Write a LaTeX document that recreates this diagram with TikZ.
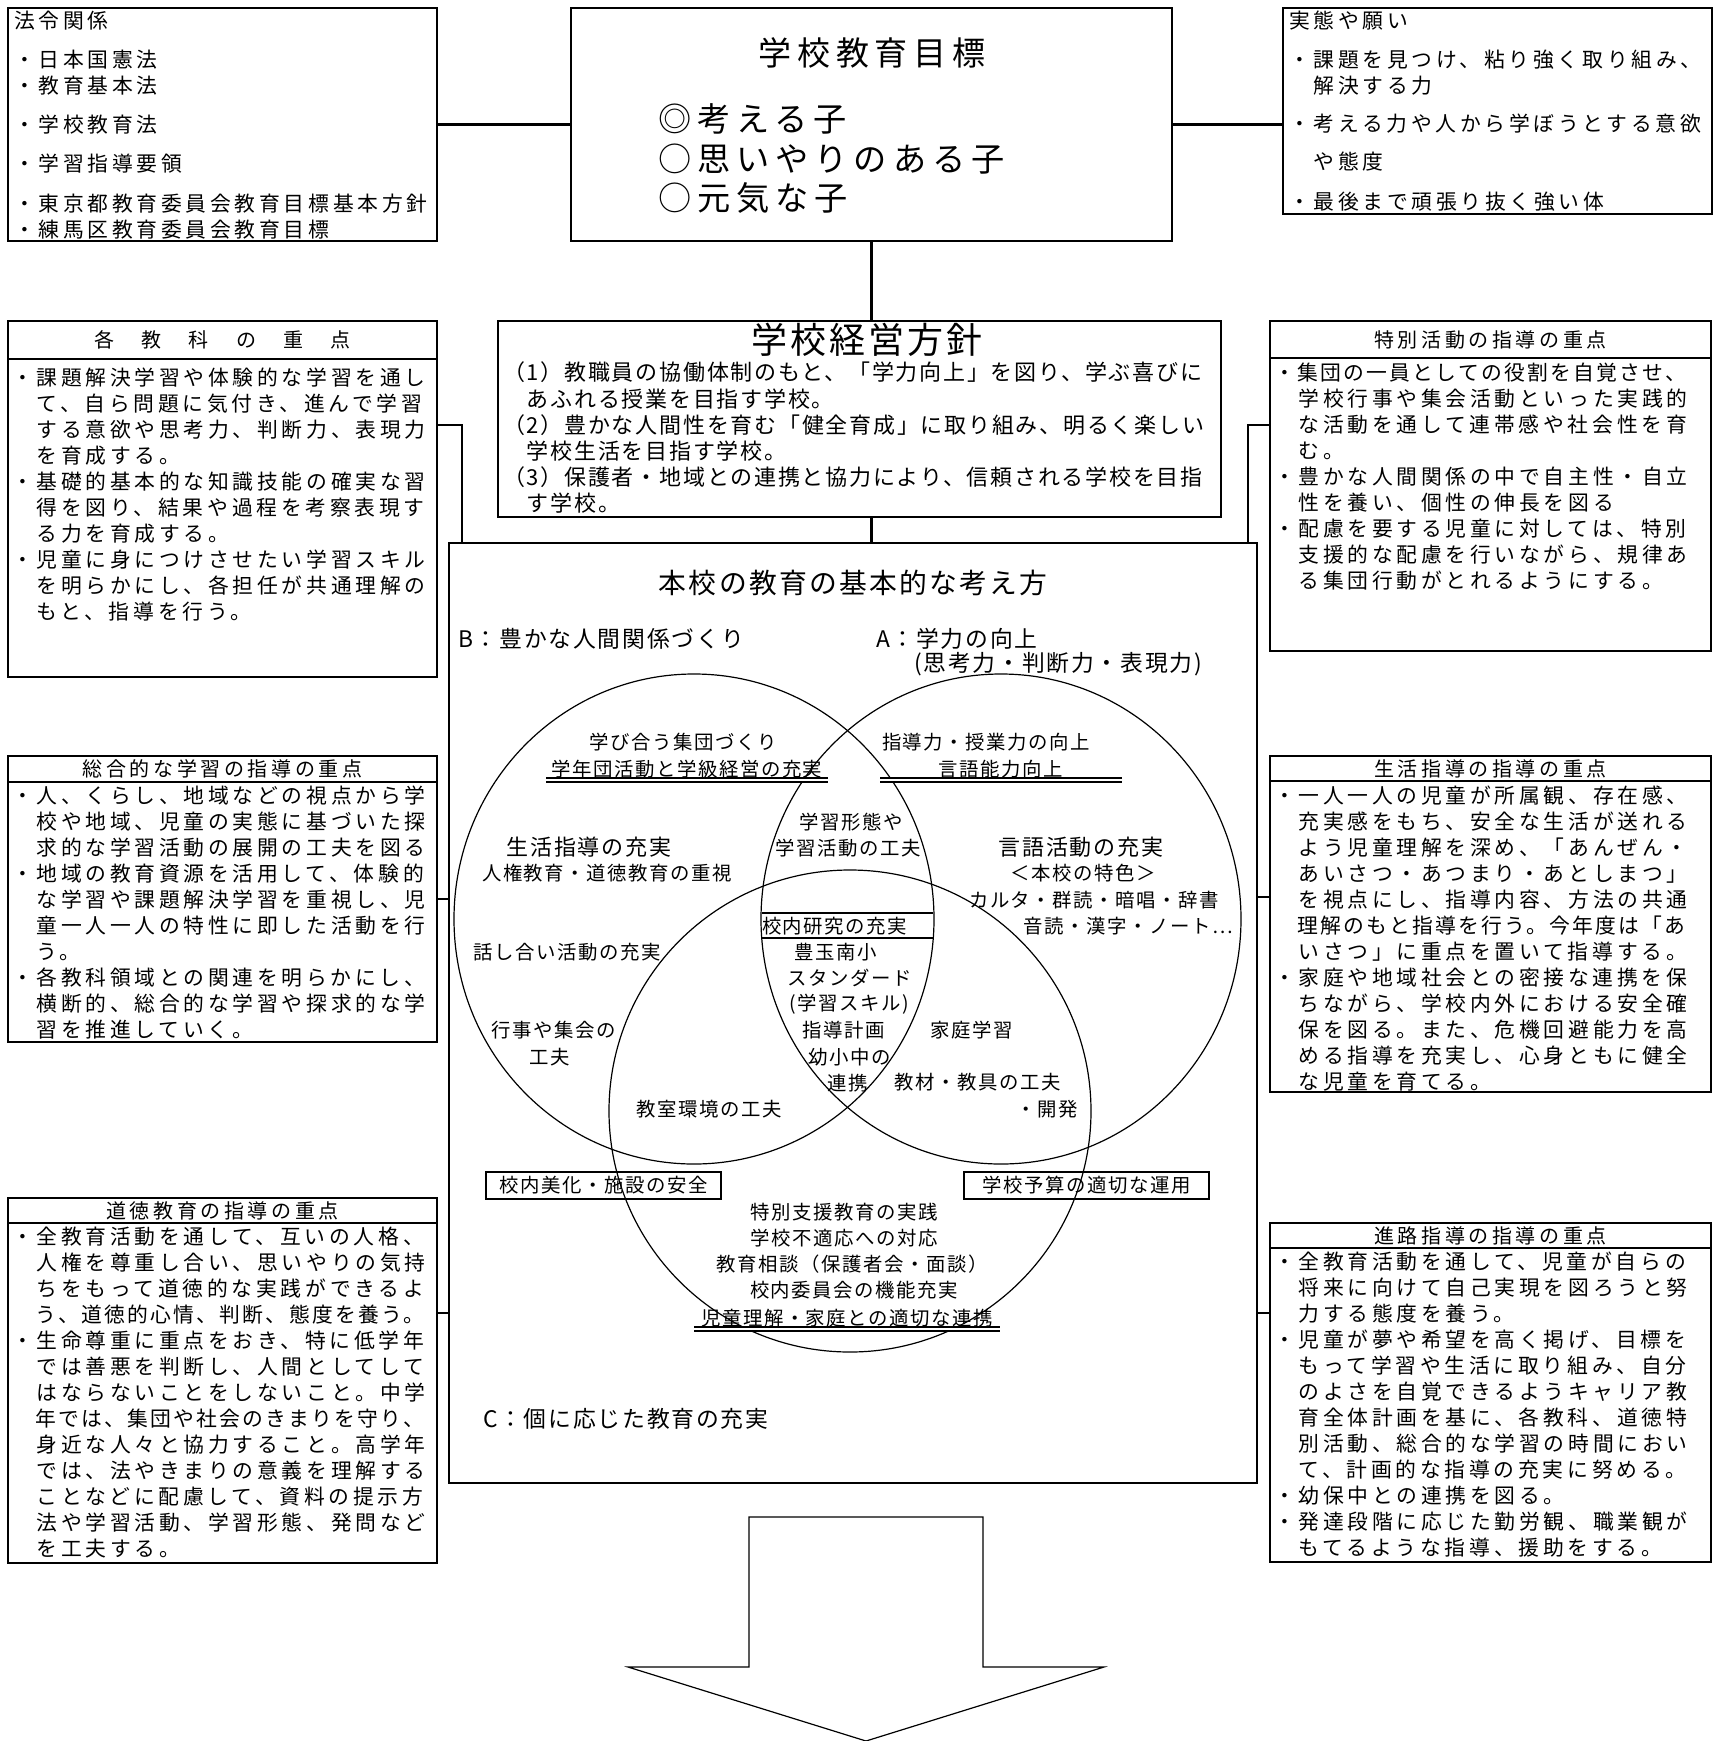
\documentclass[tikz,border=0pt]{standalone}
\usepackage{fontspec}
\setmainfont{Noto Sans CJK JP}
\newfontfamily\jpw{Noto Sans CJK JP}[LetterSpace=18]
\newfontfamily\jpm{Noto Sans CJK JP}[LetterSpace=8]
\newcommand\narrowln[1]{{\addfontfeatures{LetterSpace=11}#1}}
\usetikzlibrary{
    calc,
    shapes.geometric,
    positioning,
}

\tikzset{
    kbox/.style={draw, line width=1.3pt, inner sep=0pt, outer sep=0pt},
    txt/.style={inner sep=0pt, outer sep=0pt, align=left, anchor=north west},
    ctxt/.style={inner sep=0pt, outer sep=0pt, align=center},
    venn/.style={draw, ellipse, line width=0.6pt, inner sep=0pt},
    dline/.style={double, double distance=1.2pt, line width=1pt},
    link/.style={line width=1.3pt},
    bodyf/.style={font=\jpw\fontsize{10.4}{13}\selectfont},
    headf/.style={font=\jpw\fontsize{10}{12}\selectfont},
    vennf/.style={font=\jpm\fontsize{9.7}{13}\selectfont},
    bigf/.style={font=\jpm\fontsize{11}{13}\selectfont},
}

\begin{document}
\begin{tikzpicture}[x=0.5pt, y=-0.5pt]
    \useasboundingbox (0,0) rectangle (1726,1741);

    % top row
    \node[kbox, minimum width=214.5pt, minimum height=116.5pt, anchor=north west] (hourei) at (8,8) {};
    \node[txt, bodyf] (houreih) at (14,11) {法令関係};
    \node[txt, bodyf] (houreit) at (14,50) {・日本国憲法\\・教育基本法\\[6.5pt]・学校教育法\\[6.5pt]・学習指導要領\\[7pt]・東京都教育委員会教育目標基本方針\\・練馬区教育委員会教育目標};

    \node[kbox, minimum width=300.5pt, minimum height=116.5pt, anchor=north west] (mokuhyo) at (571,8) {};
    \node[ctxt, font=\jpw\fontsize{16.5}{20}\selectfont] (mokuhyoh) at (872,53) {学校教育目標};
    \node[txt, font=\jpw\fontsize{16.6}{19.75}\selectfont] (mokuhyot) at (658,104) {◎考える子\\○思いやりのある子\\○元気な子};

    \node[kbox, minimum width=214.5pt, minimum height=103pt, anchor=north west] (jittai) at (1283,8) {};
    \node[txt, bodyf] (jittaih) at (1289,11) {実態や願い};
    \node[txt, bodyf] (jittait) at (1289,50) {・課題を見つけ、粘り強く取り組み、\\　解決する力\\[6pt]・考える力や人から学ぼうとする意欲\\[6pt]　や態度\\[7pt]・最後まで頑張り抜く強い体};

    \draw[link] (hourei) -- (mokuhyo);
    \draw[link] (mokuhyo.east) -- (mokuhyo.east -| jittai.west);

    % school policy
    \node[kbox, minimum width=361.5pt, minimum height=98pt, anchor=north west] (keiei) at (498,321) {};
    \node[ctxt, font=\jpm\fontsize{18}{20}\selectfont] (keieih) at (867,340) {学校経営方針};
    \node[txt, font=\jpm\fontsize{11}{13.1}\selectfont] (keieit) at (503,362) {（1）教職員の協働体制のもと、「学力向上」を図り、学ぶ喜びに\\　あふれる授業を目指す学校。\\（2）豊かな人間性を育む「健全育成」に取り組み、明るく楽しい\\　学校生活を目指す学校。\\（3）保護者・地域との連携と協力により、信頼される学校を目指\\　す学校。};

    \node[kbox, minimum width=404pt, minimum height=470pt, anchor=north west] (kihon) at (449,543) {};

    \draw[link] (mokuhyo.south) -- (mokuhyo.south |- keiei.north);
    \draw[link] (keiei.south -| mokuhyo.south) -- (kihon.north -| mokuhyo.south);

    % left column
    \node[kbox, headf, minimum width=214.5pt, minimum height=19pt, anchor=north west] (kyokah) at (8,321) {各　教　科　の　重　点};
    \node[kbox, minimum width=214.5pt, minimum height=159pt, anchor=north west] (kyoka) at (kyokah.south west) {};
    \node[txt, bodyf] (kyokat) at (12,368) {・課題解決学習や体験的な学習を通し\\　て、自ら問題に気付き、進んで学習\\　する意欲や思考力、判断力、表現力\\　を育成する。\\・基礎的基本的な知識技能の確実な習\\　得を図り、結果や過程を考察表現す\\　る力を育成する。\\・児童に身につけさせたい学習スキル\\　を明らかにし、各担任が共通理解の\\　もと、指導を行う。};

    \node[kbox, headf, minimum width=214.5pt, minimum height=13pt, anchor=north west] (sogoh) at (8,756) {総合的な学習の指導の重点};
    \node[kbox, minimum width=214.5pt, minimum height=130pt, anchor=north west] (sogo) at (sogoh.south west) {};
    \node[txt, bodyf] (sogot) at (12,786) {・人、くらし、地域などの視点から学\\　校や地域、児童の実態に基づいた探\\　求的な学習活動の展開の工夫を図る\\・地域の教育資源を活用して、体験的\\　な学習や課題解決学習を重視し、児\\　童一人一人の特性に即した活動を行\\　う。\\・各教科領域との関連を明らかにし、\\　横断的、総合的な学習や探求的な学\\　習を推進していく。};

    \node[kbox, headf, minimum width=214.5pt, minimum height=12.5pt, anchor=north west] (dotokuh) at (8,1198) {道徳教育の指導の重点};
    \node[kbox, minimum width=214.5pt, minimum height=170pt, anchor=north west] (dotoku) at (dotokuh.south west) {};
    \node[txt, bodyf] (dotokut) at (12,1227) {・全教育活動を通して、互いの人格、\\　人権を尊重し合い、思いやりの気持\\　ちをもって道徳的な実践ができるよ\\\narrowln{　う、道徳的心情、判断、態度を養う。}\\・生命尊重に重点をおき、特に低学年\\　では善悪を判断し、人間としてして\\　はならないことをしないこと。中学\\\narrowln{　年では、集団や社会のきまりを守り、}\\　身近な人々と協力すること。高学年\\　では、法やきまりの意義を理解する\\　ことなどに配慮して、資料の提示方\\　法や学習活動、学習形態、発問など\\　を工夫する。};

    % right column
    \node[kbox, headf, minimum width=220.5pt, minimum height=18.5pt, anchor=north west] (tokkatsuh) at (1270,321) {特別活動の指導の重点};
    \node[kbox, minimum width=220.5pt, minimum height=146.5pt, anchor=north west] (tokkatsu) at (tokkatsuh.south west) {};
    \node[txt, bodyf] (tokkatsut) at (1274,363) {\narrowln{・集団の一員としての役割を自覚させ、}\\　学校行事や集会活動といった実践的\\　な活動を通して連帯感や社会性を育\\　む。\\・豊かな人間関係の中で自主性・自立\\　性を養い、個性の伸長を図る\\・配慮を要する児童に対しては、特別\\　支援的な配慮を行いながら、規律あ\\　る集団行動がとれるようにする。};

    \node[kbox, headf, minimum width=220.5pt, minimum height=12.5pt, anchor=north west] (seikatsuh) at (1270,756) {生活指導の指導の重点};
    \node[kbox, minimum width=220.5pt, minimum height=155.5pt, anchor=north west] (seikatsu) at (seikatsuh.south west) {};
    \node[txt, bodyf] (seikatsut) at (1274,786) {・一人一人の児童が所属観、存在感、\\　充実感をもち、安全な生活が送れる\\　よう児童理解を深め、「あんぜん・\\　あいさつ・あつまり・あとしまつ」\\　を視点にし、指導内容、方法の共通\\\narrowln{　理解のもと指導を行う。今年度は「あ}\\　いさつ」に重点を置いて指導する。\\・家庭や地域社会との密接な連携を保\\　ちながら、学校内外における安全確\\　保を図る。また、危機回避能力を高\\　める指導を充実し、心身ともに健全\\　な児童を育てる。};

    \node[kbox, headf, minimum width=220.5pt, minimum height=12.5pt, anchor=north west] (shinroh) at (1270,1223) {進路指導の指導の重点};
    \node[kbox, minimum width=220.5pt, minimum height=157pt, anchor=north west] (shinro) at (shinroh.south west) {};
    \node[txt, bodyf] (shinrot) at (1274,1252) {・全教育活動を通して、児童が自らの\\　将来に向けて自己実現を図ろうと努\\　力する態度を養う。\\・児童が夢や希望を高く掲げ、目標を\\　もって学習や生活に取り組み、自分\\　のよさを自覚できるようキャリア教\\　育全体計画を基に、各教科、道徳特\\　別活動、総合的な学習の時間におい\\　て、計画的な指導の充実に努める。\\・幼保中との連携を図る。\\・発達段階に応じた勤労観、職業観が\\　もてるような指導、援助をする。};

    % links to the centre box
    \coordinate (kyokaj) at (462,425);
    \coordinate (sogoj) at (449,899);
    \coordinate (dotokuj) at (449,1313);
    \coordinate (tokkatsuj) at (1248,425);
    \coordinate (seikatsuj) at (1257,897);
    \coordinate (shinroj) at (1257,1313);
    \draw[link] (kyoka.east |- kyokaj) -- (kyokaj) -- (kyokaj |- kihon.north);
    \draw[link] (sogo.east |- sogoj) -- (kihon.west |- sogoj);
    \draw[link] (dotoku.east |- dotokuj) -- (kihon.west |- dotokuj);
    \draw[link] (tokkatsuj |- kihon.north) -- (tokkatsuj) -- (tokkatsu.west |- tokkatsuj);
    \draw[link] (kihon.east |- seikatsuj) -- (seikatsu.west |- seikatsuj);
    \draw[link] (kihon.east |- shinroj) -- (shinro.west |- shinroj);

    % venn
    \node[venn, minimum width=240pt, minimum height=245pt] (vennB) at (694,919) {};
    \node[venn, minimum width=240pt, minimum height=245pt] (vennA) at (1001,919) {};
    \node[venn, minimum width=241pt, minimum height=241pt] (vennC) at (850,1111) {};

    \node[ctxt, font=\jpm\fontsize{13.9}{16}\selectfont] (kihonh) at (853,583) {本校の教育の基本的な考え方};
    \node[ctxt, font=\jpm\fontsize{11.4}{13}\selectfont, anchor=west] (labelB) at (458,639) {B：豊かな人間関係づくり};
    \node[ctxt, font=\jpm\fontsize{11.4}{13}\selectfont, anchor=west] (labelA) at (876,639) {A：学力の向上};
    \node[ctxt, font=\jpm\fontsize{11.4}{13}\selectfont, anchor=west] (labelAs) at (914,664) {(思考力・判断力・表現力)};
    \node[ctxt, font=\jpm\fontsize{11.4}{13}\selectfont, anchor=west] (labelC) at (483,1419) {C：個に応じた教育の充実};

    \node[ctxt, vennf] (manabi) at (683,742) {学び合う集団づくり};
    \node[ctxt, vennf, minimum width=141pt] (gakunen) at (687,769) {学年団活動と学級経営の充実};
    \node[ctxt, vennf] (shidoryoku) at (986,742) {指導力・授業力の向上};
    \node[ctxt, vennf, minimum width=121pt] (gengo) at (1001,769) {言語能力向上};
    \node[ctxt, vennf] (keitai) at (851,822) {学習形態や};
    \node[ctxt, vennf] (katsudo) at (848,848) {学習活動の工夫};
    \node[ctxt, bigf] (seishi) at (589,847) {生活指導の充実};
    \node[ctxt, vennf] (jinken) at (607,873) {人権教育・道徳教育の重視};
    \node[ctxt, bigf] (gengok) at (1081,847) {言語活動の充実};
    \node[ctxt, vennf] (tokushoku) at (1083,873) {＜本校の特色＞};
    \node[ctxt, vennf] (karuta) at (1094,900) {カルタ・群読・暗唱・辞書};
    \node[ctxt, vennf] (ondoku) at (1128,926) {音読・漢字・ノート…};
    \node[ctxt, vennf, text width=85.5pt, align=left] (konai) at (847.5,926) {校内研究の充実};
    \node[ctxt, vennf] (hanashi) at (567,952) {話し合い活動の充実};
    \node[ctxt, vennf] (toyotama) at (836,952) {豊玉南小};
    \node[ctxt, vennf] (standard) at (850,978) {スタンダード};
    \node[ctxt, vennf] (skill) at (849,1004) {(学習スキル)};
    \node[ctxt, vennf] (keikaku) at (844,1030) {指導計画};
    \node[ctxt, vennf] (katei) at (972,1030) {家庭学習};
    \node[ctxt, vennf] (gyoji) at (554,1030) {行事や集会の};
    \node[ctxt, vennf] (kufu) at (550,1057) {工夫};
    \node[ctxt, vennf] (yoshochu) at (850,1057) {幼小中の};
    \node[ctxt, vennf] (renkei) at (848,1083) {連携};
    \node[ctxt, vennf] (kyozai) at (978,1082) {教材・教具の工夫};
    \node[ctxt, vennf] (kaihatsu) at (1047,1109) {・開発};
    \node[ctxt, vennf] (kyoshitsu) at (709,1109) {教室環境の工夫};
    \node[kbox, vennf, line width=1.1pt, minimum width=117.5pt, minimum height=13.5pt] (bika) at (603.5,1185.5) {校内美化・施設の安全};
    \node[kbox, vennf, line width=1.1pt, minimum width=122.5pt, minimum height=13.5pt] (yosan) at (1086.5,1185.5) {学校予算の適切な運用};
    \node[ctxt, vennf] (tokushi) at (844,1212) {特別支援教育の実践};
    \node[ctxt, vennf] (futekio) at (844,1238) {学校不適応への対応};
    \node[ctxt, vennf] (sodan) at (852,1264) {教育相談（保護者会・面談）};
    \node[ctxt, vennf] (iinkai) at (854,1290) {校内委員会の機能充実};
    \node[ctxt, vennf, minimum width=153pt] (jidou) at (847,1318) {児童理解・家庭との適切な連携};

    \draw[dline] ([yshift=-5.5pt]gakunen.west) -- ([yshift=-5.5pt]gakunen.east);
    \draw[dline] ([yshift=-5.5pt]gengo.west) -- ([yshift=-5.5pt]gengo.east);
    \draw[dline] ([yshift=-5.5pt]jidou.west) -- ([yshift=-5.5pt]jidou.east);
    \draw[line width=1.1pt] ([yshift=6.5pt]konai.west) -- ([yshift=6.5pt]konai.east);
    \draw[line width=1.1pt] ([yshift=-6pt]konai.west) -- ([yshift=-6pt]konai.east);

    % arrow
    \draw[line width=0.6pt] (749,1517) -- (983,1517) -- (983,1667) -- (1104,1667) -- (866,1741)
        -- (628,1667) -- (749,1667) -- cycle;
\end{tikzpicture}
\end{document}
